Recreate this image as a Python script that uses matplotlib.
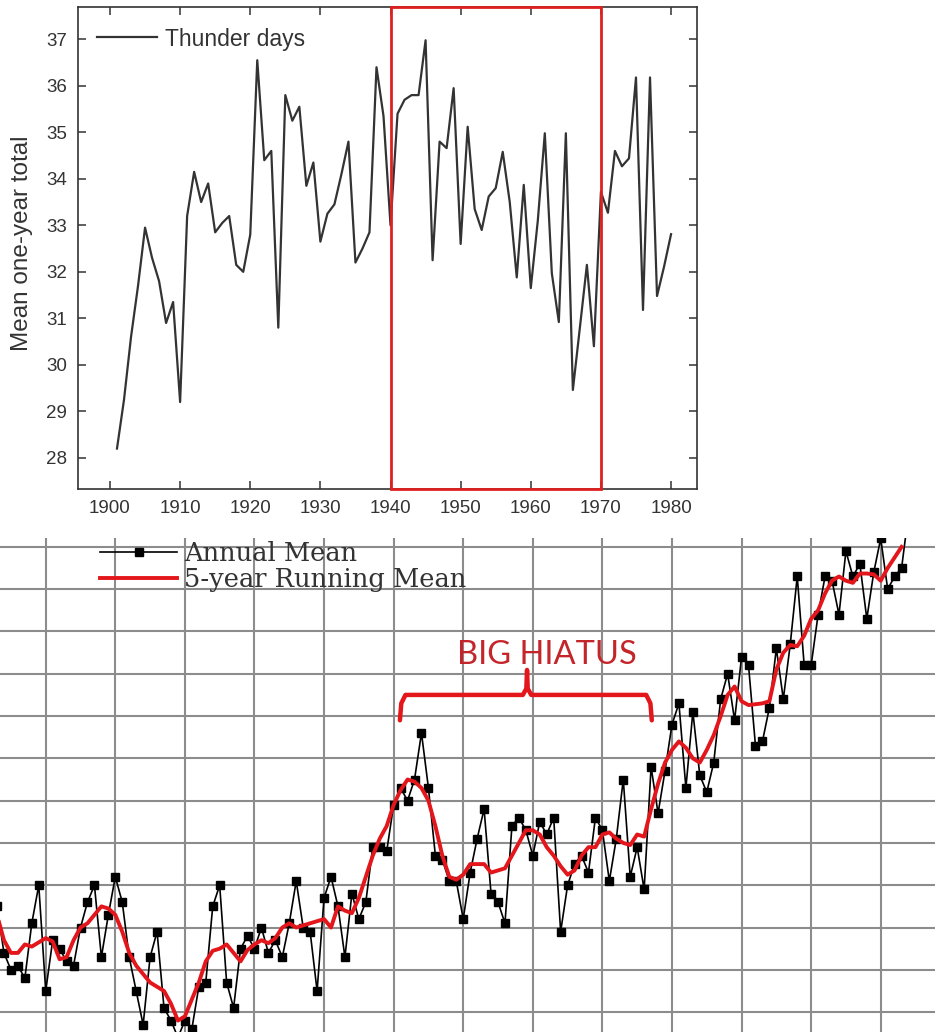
import matplotlib
matplotlib.use("Agg")
import matplotlib.pyplot as plt
import matplotlib.transforms as mtransforms
from matplotlib.patches import Rectangle

# ---- datos panel superior: dias de tormenta ----
anios_trueno = list(range(1901, 1981))
dias_trueno = [
    28.2, 29.25, 30.6, 31.7, 32.95, 32.3, 31.8, 30.9, 31.35, 29.2,      # 1901-1910
    33.2, 34.15, 33.5, 33.9, 32.85, 33.05, 33.2, 32.15, 32.0, 32.8,     # 1911-1920
    36.55, 34.4, 34.6, 30.8, 35.8, 35.25, 35.55, 33.85, 34.35, 32.65,   # 1921-1930
    33.25, 33.45, 34.1, 34.8, 32.2, 32.5, 32.85, 36.4, 35.35, 33.0,     # 1931-1940
    35.4, 35.7, 35.8, 35.8, 36.98, 32.25, 34.8, 34.66, 35.95, 32.6,     # 1941-1950
    35.12, 33.35, 32.9, 33.62, 33.8, 34.58, 33.5, 31.88, 33.87, 31.65,  # 1951-1960
    33.1, 34.98, 31.97, 30.92, 34.98, 29.46, 30.8, 32.15, 30.4, 33.72,  # 1961-1970
    33.27, 34.6, 34.27, 34.44, 36.18, 31.18, 36.18, 31.48, 32.11, 32.81,  # 1971-1980
]
ticks_x_sup = list(range(1900, 1981, 10))
ticks_y_sup = list(range(28, 38))
periodo_caja = (1940, 1970)

# ---- datos panel inferior: temperatura ----
anios_temp = list(range(1883, 2015))
media_anual = [
    -0.25, -0.36, -0.40, -0.39, -0.42, -0.29, -0.20,                     # 1883-1889
    -0.45, -0.33, -0.35, -0.38, -0.39, -0.30, -0.24, -0.20, -0.37, -0.27,  # 1890-1899
    -0.18, -0.24, -0.37, -0.45, -0.53, -0.37, -0.31, -0.49, -0.52, -0.56,  # 1900-1909
    -0.52, -0.54, -0.44, -0.43, -0.25, -0.20, -0.43, -0.49, -0.35, -0.32,  # 1910-1919
    -0.35, -0.30, -0.36, -0.33, -0.37, -0.29, -0.19, -0.30, -0.31, -0.45,  # 1920-1929
    -0.23, -0.18, -0.25, -0.37, -0.22, -0.28, -0.24, -0.11, -0.11, -0.12,  # 1930-1939
    -0.01, 0.03, 0.00, 0.05, 0.16, 0.03, -0.13, -0.14, -0.19, -0.19,      # 1940-1949
    -0.28, -0.17, -0.09, -0.02, -0.22, -0.24, -0.29, -0.06, -0.04, -0.07,  # 1950-1959
    -0.13, -0.05, -0.08, -0.04, -0.31, -0.20, -0.15, -0.13, -0.17, -0.04,  # 1960-1969
    -0.07, -0.19, -0.09, 0.05, -0.18, -0.11, -0.21, 0.08, -0.03, 0.07,     # 1970-1979
    0.18, 0.23, 0.03, 0.21, 0.06, 0.02, 0.09, 0.24, 0.30, 0.19,           # 1980-1989
    0.34, 0.32, 0.13, 0.14, 0.22, 0.36, 0.24, 0.37, 0.53, 0.32,           # 1990-1999
    0.32, 0.44, 0.53, 0.52, 0.44, 0.59, 0.53, 0.56, 0.43, 0.54,           # 2000-2009
    0.62, 0.50, 0.53, 0.55, 0.68,                                         # 2010-2014
]
anios_media5 = list(range(1883, 2014))
media_5 = [
    -0.27, -0.33, -0.36, -0.36, -0.34, -0.345, -0.335,                    # 1883-1889
    -0.325, -0.333, -0.375, -0.37, -0.33, -0.30, -0.29, -0.27, -0.25, -0.255,  # 1890-1899
    -0.27, -0.31, -0.36, -0.39, -0.41, -0.43, -0.44, -0.45, -0.48, -0.52,  # 1900-1909
    -0.51, -0.47, -0.43, -0.38, -0.355, -0.35, -0.34, -0.36, -0.38, -0.353,  # 1910-1919
    -0.34, -0.33, -0.337, -0.325, -0.30, -0.29, -0.30, -0.295, -0.29, -0.285,  # 1920-1929
    -0.28, -0.30, -0.25, -0.26, -0.266, -0.23, -0.18, -0.13, -0.09, -0.06,  # 1930-1939
    -0.01, 0.025, 0.05, 0.045, 0.03, 0.0, -0.06, -0.13, -0.18, -0.187,    # 1940-1949
    -0.175, -0.15, -0.15, -0.15, -0.17, -0.165, -0.16, -0.13, -0.10, -0.07,  # 1950-1959
    -0.07, -0.08, -0.11, -0.13, -0.155, -0.175, -0.165, -0.13, -0.11, -0.11,  # 1960-1969
    -0.08, -0.075, -0.09, -0.10, -0.105, -0.08, -0.085, -0.02, 0.04, 0.09,  # 1970-1979
    0.12, 0.14, 0.125, 0.10, 0.09, 0.12, 0.155, 0.20, 0.25, 0.27,        # 1980-1989
    0.235, 0.226, 0.228, 0.23, 0.235, 0.31, 0.35, 0.368, 0.365, 0.39,     # 1990-1999
    0.43, 0.45, 0.49, 0.52, 0.53, 0.52, 0.515, 0.537, 0.537, 0.535,       # 2000-2009
    0.52, 0.55, 0.575, 0.60,                                              # 2010-2013
]
lineas_x_inf = list(range(1890, 2011, 10))
lineas_y_inf = [v / 10 for v in range(-5, 7)]

GRIS = "#333333"
ROJO = "#e3161c"

fig = plt.figure(figsize=(9.35, 10.32), dpi=100)

# ================= panel superior =================
ax1 = fig.add_axes([78 / 935, 1 - 489 / 1032, 619 / 935, 482 / 1032])
ax1.plot(anios_trueno, dias_trueno, color=GRIS, lw=1.6, label="Thunder days")
ax1.set_xlim(1895.44, 1983.7)
ax1.set_ylim(27.33, 37.695)
ax1.set_xticks(ticks_x_sup)
ax1.set_yticks(ticks_y_sup)
ax1.tick_params(direction="in", length=6, width=1.1, top=True, right=True,
                labelsize=13.5, labelcolor=GRIS, color=GRIS, pad=8)
for lab in ax1.get_xticklabels() + ax1.get_yticklabels():
    lab.set_fontfamily("Liberation Sans")
for s in ax1.spines.values():
    s.set_color(GRIS)
    s.set_linewidth(1.2)
ax1.set_ylabel("Mean one-year total", fontsize=17.5, color=GRIS,
               fontfamily="Liberation Sans")
ax1.yaxis.set_label_coords(-0.072, 0.51)

trans = mtransforms.blended_transform_factory(ax1.transData, ax1.transAxes)
ax1.add_patch(Rectangle((periodo_caja[0], 0), periodo_caja[1] - periodo_caja[0], 1,
                        transform=trans, fill=False, edgecolor="#e02020",
                        lw=2.0, clip_on=False, zorder=3))

leg1 = ax1.legend(loc="center left", bbox_to_anchor=(0.0307, 0.9336),
                  frameon=False, borderpad=0, borderaxespad=0,
                  handlelength=2.6, handletextpad=0.35,
                  prop={"family": "Liberation Sans", "size": 16.5})
for t in leg1.get_texts():
    t.set_color(GRIS)

# ================= panel inferior =================
ax2 = fig.add_axes([0, 0, 1, 494 / 1032])
ax2.set_xlim(1883.43, 2017.8)
ax2.set_ylim(-0.547, 0.621)
ax2.set_xticks(lineas_x_inf)
ax2.set_yticks(lineas_y_inf)
ax2.tick_params(length=0, labelbottom=False, labelleft=False)
for s in ax2.spines.values():
    s.set_visible(False)
ax2.grid(True, color="#8c8c8c", lw=1.5)
ax2.set_axisbelow(True)

ax2.plot(anios_temp, media_anual, color="black", lw=1.2, marker="s",
         markersize=5.5, label="Annual Mean")
ax2.plot(anios_media5, media_5, color=ROJO, lw=2.8, label="5-year Running Mean")

leg2 = ax2.legend(loc="center left", bbox_to_anchor=(100 / 935, 0.942),
                  frameon=False, borderpad=0, borderaxespad=0,
                  handlelength=3.0, handletextpad=0.27, labelspacing=0.04,
                  prop={"family": "DejaVu Serif", "size": 18.5})
for t in leg2.get_texts():
    t.set_color(GRIS)

# llave roja "BIG HIATUS"
xl, xc, xr = 1940.9, 1959.17, 1977.1
yh, ye, yc = 0.25, 0.19, 0.309
llave_x = [xl, xl + 0.2, xl + 0.8, xc - 0.6, xc - 0.1, xc, xc + 0.1, xc + 0.6,
           xr - 0.8, xr - 0.2, xr]
llave_y = [ye, yh - 0.02, yh, yh, yh + 0.015, yc, yh + 0.015, yh, yh, yh - 0.02, ye]
ax2.plot(llave_x, llave_y, color=ROJO, lw=3.2, solid_capstyle="round",
         solid_joinstyle="round")
ax2.text(1962.0, 0.345, "BIG HIATUS", color="#c4252b", fontsize=23.5,
         fontfamily="Lato", ha="center", va="center")

fig.savefig("out.png", dpi=100)
